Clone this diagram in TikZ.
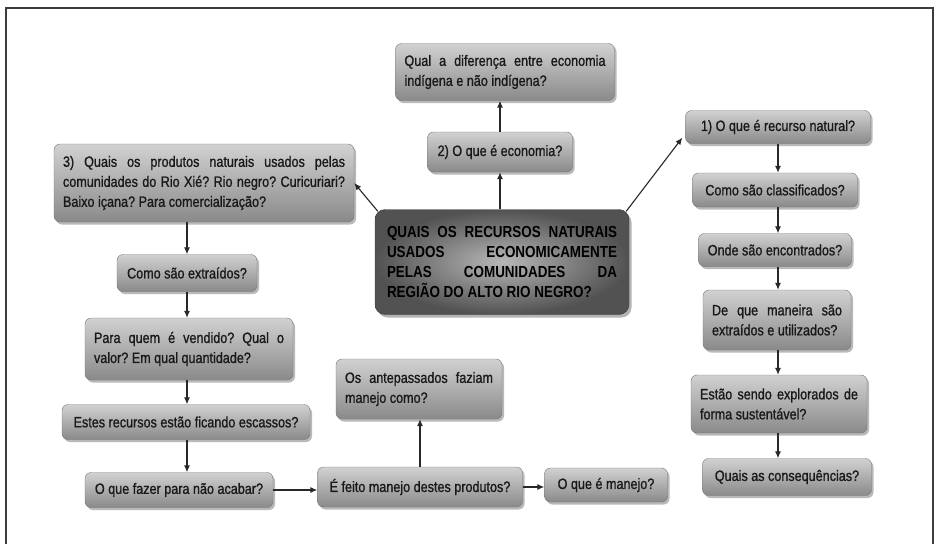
\documentclass[tikz,border=0pt]{standalone}
\usepackage{fontspec}
\setmainfont{Liberation Sans}[FakeStretch=0.84,UprightFeatures={FakeBold=1}]
\usetikzlibrary{arrows.meta,shadows}
\definecolor{rim}{RGB}{60,60,60}
\definecolor{wire}{RGB}{40,40,40}
\definecolor{ink}{RGB}{25,25,25}
\tikzset{
  x=1pt,y=1pt,
  >={Latex[length=7pt,width=6pt]},
  qbox/.style={draw=rim!70,rounded corners=6pt,top color=black!18,bottom color=black!46,
    text=ink,inner xsep=9pt,inner ysep=3pt,align=center,
    font=\fontsize{15}{20}\selectfont\frenchspacing,
    drop shadow={shadow xshift=2pt,shadow yshift=-2.5pt,opacity=0.55}},
  qtext/.style={qbox,text width=#1,align=justify},
  mainbox/.style={draw=rim,rounded corners=10pt,shading=radial,inner color=black!28,
    outer color=black!68,text=black,text width=230pt,align=justify,inner xsep=12pt,
    font=\fontsize{16}{20}\selectfont\bfseries\frenchspacing,
    drop shadow={shadow xshift=2.5pt,shadow yshift=-3pt,opacity=0.6}},
  flow/.style={->,line width=1.1pt,draw=wire},
}

\begin{document}
\begin{tikzpicture}
  \useasboundingbox (0,0) rectangle (936,-544);
  \draw[rim,line width=2pt] (6,-544) -- (6,-8) -- (933,-8) -- (933,-544);
  % centre
  \node[mainbox,minimum height=105pt] (main) at (502,-262)
    {QUAIS OS RECURSOS NATURAIS\linebreak USADOS ECONOMICAMENTE\linebreak PELAS COMUNIDADES DA\linebreak REGIÃO DO ALTO RIO NEGRO?};
  % top branch
  \node[qbox,minimum width=145pt,minimum height=40pt] (eco) at (500,-152) {2) O que é economia?};
  \node[qtext=201pt,minimum height=57pt] (dif) at (505,-72)
    {Qual a diferença entre economia\linebreak indígena e não indígena?};
  % left branch
  \node[qtext=282pt,minimum height=78pt] (q3) at (204,-183)
    {3) Quais os produtos naturais usados pelas\linebreak comunidades do Rio Xié? Rio negro? Curicuriari?\linebreak Baixo içana? Para comercialização?};
  \node[qbox,minimum width=140pt,minimum height=37pt] (ext) at (187,-273) {Como são extraídos?};
  \node[qtext=190pt,minimum height=62pt] (vend) at (189,-349)
    {Para quem é vendido? Qual o\linebreak valor? Em qual quantidade?};
  \node[qbox,minimum width=248pt,minimum height=35pt] (esc) at (186,-422) {Estes recursos estão ficando escassos?};
  \node[qbox,minimum width=188pt,minimum height=35pt] (fazer) at (179,-490) {O que fazer para não acabar?};
  \node[qbox,minimum width=205pt,minimum height=40pt] (feito) at (420,-487) {É feito manejo destes produtos?};
  \node[qtext=148pt,minimum height=60pt] (ante) at (419,-389)
    {Os antepassados faziam\linebreak manejo como?};
  \node[qbox,minimum width=123pt,minimum height=34pt] (manejo) at (606,-485) {O que é manejo?};
  % right branch
  \node[qbox,minimum width=185pt,minimum height=33pt] (r1) at (778,-127) {1) O que é recurso natural?};
  \node[qbox,minimum width=165pt,minimum height=34pt] (classif) at (775,-190) {Como são classificados?};
  \node[qbox,minimum width=153pt,minimum height=33pt] (onde) at (775,-250) {Onde são encontrados?};
  \node[qtext=130pt,minimum height=60pt] (maneira) at (777,-320)
    {De que maneira são\linebreak extraídos e utilizados?};
  \node[qtext=158pt,minimum height=58pt] (sust) at (779,-404)
    {Estão sendo explorados de\linebreak forma sustentável?};
  \node[qbox,minimum width=169pt,minimum height=37pt] (conseq) at (787,-477) {Quais as consequências?};

  \draw[flow] (eco.south |- main.north) -- (eco.south);
  \draw[flow] (eco.north) -- (eco.north |- dif.south);
  \draw[flow] ([shift={(3,-2)}]main.north west) -- (q3.east);
  \draw[flow] ([shift={(-3,-2)}]main.north east) -- ([shift={(-3,6)}]r1.south west);
  \draw[flow] (ext.north |- q3.south) -- (ext.north);
  \foreach \a/\b in {ext/vend,vend/esc,esc/fazer}
    \draw[flow] (ext.south |- \a.south) -- (ext.south |- \b.north);
  \draw[flow] (fazer.east) -- (fazer.east -| feito.west);
  \draw[flow] (feito.north) -- (feito.north |- ante.south);
  \draw[flow] (feito.east) -- (feito.east -| manejo.west);
  \foreach \a/\b in {r1/classif,classif/onde,onde/maneira,maneira/sust,sust/conseq}
    \draw[flow] (r1.south |- \a.south) -- (r1.south |- \b.north);
\end{tikzpicture}
\end{document}
